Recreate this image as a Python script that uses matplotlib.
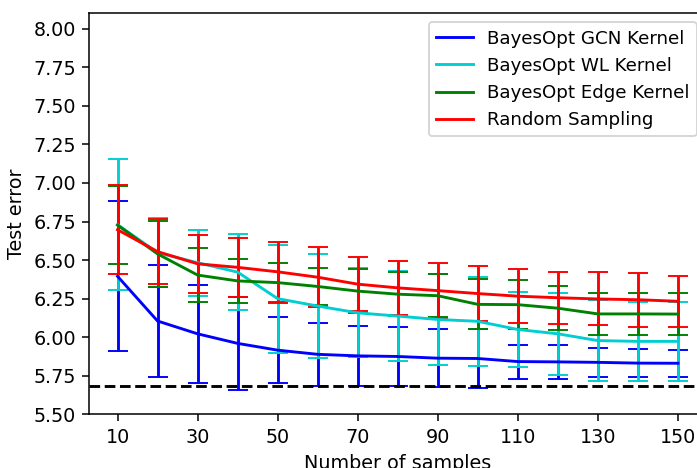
import matplotlib
matplotlib.use("Agg")
import matplotlib.pyplot as plt
import numpy as np

samples = [10, 20, 30, 40, 50, 60, 70, 80, 90, 100, 110, 120, 130, 140, 150]

gcn_mean = [6.395, 6.105, 6.022, 5.960, 5.916, 5.889, 5.879, 5.875, 5.864, 5.862, 5.842, 5.840, 5.837, 5.832, 5.831]
gcn_err = [0.487, 0.364, 0.318, 0.303, 0.212, 0.204, 0.196, 0.190, 0.190, 0.190, 0.110, 0.110, 0.094, 0.089, 0.087]

wl_mean = [6.730, 6.548, 6.483, 6.422, 6.250, 6.202, 6.158, 6.137, 6.115, 6.103, 6.050, 6.022, 5.978, 5.973, 5.973]
wl_err = [0.423, 0.222, 0.215, 0.247, 0.350, 0.335, 0.288, 0.290, 0.295, 0.287, 0.246, 0.267, 0.261, 0.255, 0.255]

edge_mean = [6.727, 6.540, 6.403, 6.365, 6.354, 6.329, 6.299, 6.279, 6.269, 6.213, 6.211, 6.188, 6.151, 6.151, 6.150]
edge_err = [0.254, 0.215, 0.174, 0.141, 0.130, 0.121, 0.145, 0.141, 0.139, 0.162, 0.159, 0.142, 0.137, 0.137, 0.138]

rand_mean = [6.697, 6.555, 6.476, 6.453, 6.424, 6.389, 6.344, 6.320, 6.302, 6.283, 6.266, 6.256, 6.248, 6.243, 6.233]
rand_err = [0.290, 0.210, 0.187, 0.191, 0.195, 0.194, 0.173, 0.176, 0.176, 0.179, 0.174, 0.170, 0.172, 0.175, 0.167]

baseline = 5.681

fig = plt.figure(figsize=(697 / 138, 468 / 138), dpi=138)
# right edge of axes sits past the figure border (cropped like the original)
ax = fig.add_axes([0.1284, 0.1147, 0.8845, 0.8568])

ax.errorbar(samples, gcn_mean, yerr=gcn_err, color='blue', capsize=5, label='BayesOpt GCN Kernel')
ax.errorbar(samples, wl_mean, yerr=wl_err, color='darkturquoise', capsize=5, label='BayesOpt WL Kernel')
ax.errorbar(samples, edge_mean, yerr=edge_err, color='green', capsize=5, label='BayesOpt Edge Kernel')
ax.errorbar(samples, rand_mean, yerr=rand_err, color='red', capsize=5, label='Random Sampling')
ax.axhline(baseline, color='black', linestyle='--', linewidth=1.5)

ax.set_xlim(3, 157)
ax.set_ylim(5.5, 8.1)
ax.set_xticks(samples[::2])
ax.set_yticks(np.arange(5.5, 8.01, 0.25))
ax.set_yticklabels(['%.2f' % v for v in np.arange(5.5, 8.01, 0.25)])
ax.set_xlabel('Number of samples')
ax.set_ylabel('Test error')

handles, labels = ax.get_legend_handles_labels()
handles = [h[0] for h in handles]
ax.legend(handles, labels, loc='upper right', fontsize=9.5)

fig.savefig('out.png', dpi=138)
